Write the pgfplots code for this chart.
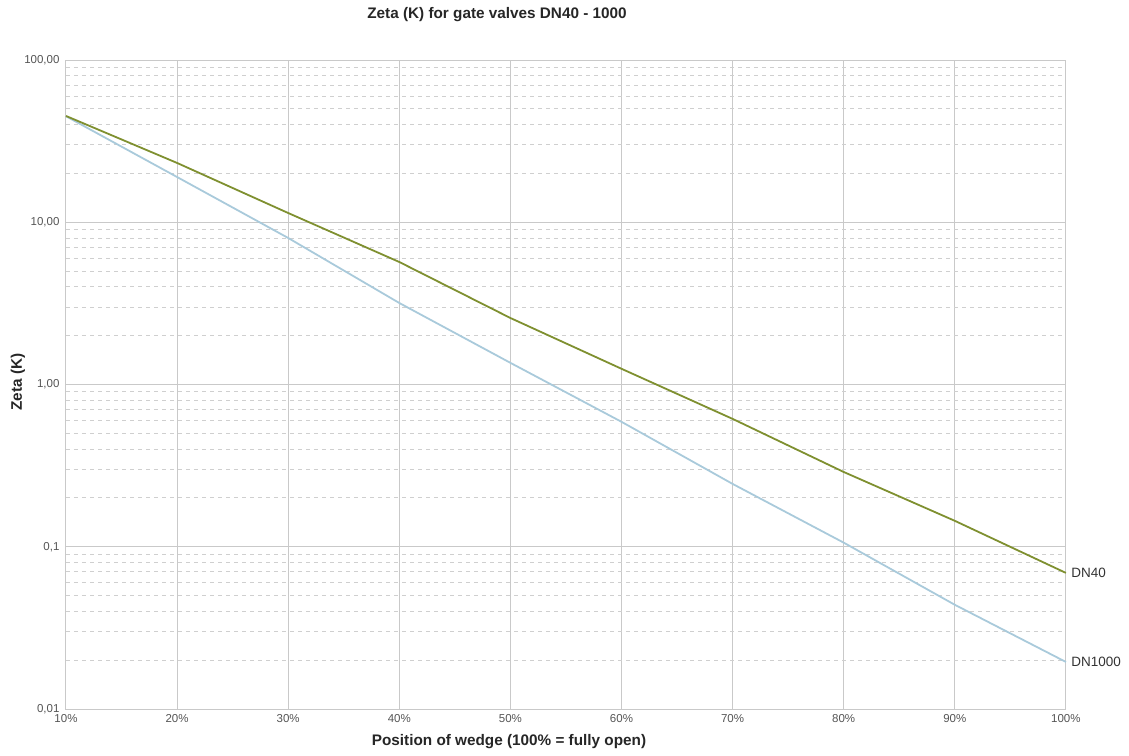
\documentclass[border=0pt]{standalone}
\usepackage{fontspec}
\setmainfont{Liberation Sans}
\usepackage{pgfplots}
\pgfplotsset{compat=1.18}
\definecolor{dnforty}{HTML}{7F9030}
\definecolor{dnthousand}{HTML}{A9CADB}
\definecolor{majgrid}{HTML}{C9C9C9}
\definecolor{mingrid}{HTML}{CFCFCF}
\definecolor{ticktext}{HTML}{555555}
\begin{document}
\begin{tikzpicture}
\path[use as bounding box] (-66pt,-46pt) rectangle (1063pt,709pt);
\begin{semilogyaxis}[
  scale only axis,
  width=1000pt, height=649pt,
  at={(0,0)}, anchor=south west,
  xmin=10, xmax=100,
  ymin=0.01, ymax=100,
  xtick={10,20,30,40,50,60,70,80,90,100},
  xticklabels={10\%,20\%,30\%,40\%,50\%,60\%,70\%,80\%,90\%,100\%},
  ytick={0.01,0.1,1,10,100},
  yticklabels={{0,01},{0,1},{1,00},{10,00},{100,00}},
  minor ytick={0.02,0.03,0.04,0.05,0.06,0.07,0.08,0.09,
               0.2,0.3,0.4,0.5,0.6,0.7,0.8,0.9,
               2,3,4,5,6,7,8,9,
               20,30,40,50,60,70,80,90},
  minor xtick={},
  grid=both,
  major grid style={draw=majgrid, line width=1pt},
  minor grid style={draw=mingrid, line width=0.9pt, dash pattern=on 4pt off 4pt},
  major tick length=0pt, minor tick length=0pt,
  axis line style={draw=majgrid, line width=1pt},
  tick label style={font=\fontsize{11.5}{12}\selectfont, text=ticktext},
  yticklabel style={anchor=east, xshift=-3pt},
  xticklabel style={anchor=north, yshift=-2pt},
  clip=false,
]
\addplot[dnthousand, line width=1.8pt] coordinates {
  (10,45) (20,19.0) (30,8.0) (40,3.18) (50,1.36) (60,0.589)
  (70,0.244) (80,0.106) (90,0.0439) (100,0.0195)
};
\addplot[dnforty, line width=1.8pt] coordinates {
  (10,45.2) (20,23.2) (30,11.4) (40,5.69) (50,2.57) (60,1.25)
  (70,0.614) (80,0.289) (90,0.1445) (100,0.069)
};
\node[anchor=west, font=\fontsize{13.5}{14}\selectfont, text=black!80] at (axis cs:100,0.069) {\hspace{2pt}DN40};
\node[anchor=west, font=\fontsize{13.5}{14}\selectfont, text=black!80] at (axis cs:100,0.0195) {\hspace{2pt}DN1000};
\end{semilogyaxis}
\node[font=\bfseries\fontsize{15.3}{16}\selectfont, text=black!85] at (431pt,694pt) {Zeta (K) for gate valves DN40 - 1000};
\node[font=\bfseries\fontsize{15.3}{16}\selectfont, text=black!85] at (443pt,-33pt) {Position of wedge (100\% = fully open)};
\node[font=\bfseries\fontsize{15.3}{16}\selectfont, text=black!85, rotate=90] at (-48pt,327pt) {Zeta (K)};
\end{tikzpicture}
\end{document}
